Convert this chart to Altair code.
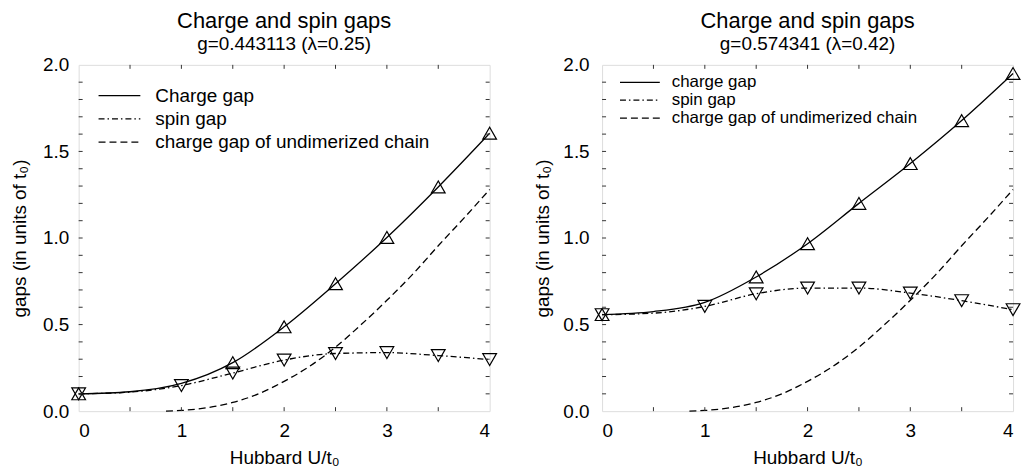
import altair as alt
import pandas as pd

FONT = "Liberation Sans"

# ---- data ----
U_line = [0, 0.5, 1, 1.5, 2, 2.5, 3, 3.5, 4]

# left panel: g=0.443113 (lambda=0.25)
charge_A = [0.10, 0.112, 0.16, 0.28, 0.487, 0.736, 1.003, 1.295, 1.605]
spin_A = [0.10, 0.11, 0.148, 0.22, 0.295, 0.333, 0.338, 0.321, 0.298]

# right panel: g=0.574341 (lambda=0.42)
charge_B = [0.558, 0.575, 0.628, 0.775, 0.967, 1.20, 1.43, 1.678, 1.95]
spin_B = [0.557, 0.566, 0.605, 0.678, 0.711, 0.711, 0.682, 0.638, 0.586]

# which U values carry a marker
U_charge_markers = [0, 1.5, 2, 2.5, 3, 3.5, 4]
U_spin_markers = [0, 1, 1.5, 2, 2.5, 3, 3.5, 4]

# charge gap of the undimerized chain (same in both panels)
U_undim = [0.85, 1.0, 1.25, 1.5, 1.75, 2.0, 2.25, 2.5, 2.75, 3.0, 3.25, 3.5, 3.75, 4.0]
undim = [0.0, 0.004, 0.02, 0.05, 0.10, 0.172, 0.26, 0.37, 0.50, 0.64, 0.79, 0.955, 1.115, 1.28]

x_ticks = [0, 1, 2, 3, 4]
x_minor = [0.5, 1, 1.5, 2, 2.5, 3, 3.5]
y_ticks = [0.0, 0.5, 1.0, 1.5, 2.0]
y_minor = [0.1, 0.2, 0.3, 0.4, 0.5, 0.6, 0.7, 0.8, 0.9, 1.0,
           1.1, 1.2, 1.3, 1.4, 1.5, 1.6, 1.7, 1.8, 1.9]

W, H = 413, 348
DASH_SOLID = [1, 0]
DASH_DOT = [6, 3, 1.5, 3]
DASH = [7, 4]


def panel(charge, spin, title, subtitle, labels, legend_font, leg_x0, leg_x1,
          leg_tx, leg_y0, leg_dy, ylab_pad, ytitle_pad):
    X = alt.X("U:Q", scale=alt.Scale(domain=[0, 4], nice=False, zero=False),
              axis=alt.Axis(values=x_ticks, format="d", title="Hubbard U/t\u2080",
                            ticks=False, domain=False, grid=False,
                            labelFontSize=19, titleFontSize=19, labelFont=FONT,
                            titleFont=FONT, labelColor="black", titleColor="black",
                            titleFontWeight="normal", labelPadding=10, titlePadding=9))
    Y = alt.Y("gap:Q", scale=alt.Scale(domain=[0, 2], nice=False),
              axis=alt.Axis(values=y_ticks, format=".1f",
                            title="gaps (in units of t\u2080)",
                            ticks=False, domain=False, grid=False,
                            labelFontSize=19, titleFontSize=19, labelFont=FONT,
                            titleFont=FONT, labelColor="black", titleColor="black",
                            titleFontWeight="normal", labelPadding=ylab_pad,
                            titlePadding=ytitle_pad))

    df_c = pd.DataFrame({"U": U_line, "gap": charge})
    df_s = pd.DataFrame({"U": U_line, "gap": spin})
    df_u = pd.DataFrame({"U": U_undim, "gap": undim})
    df_cm = df_c[df_c["U"].isin(U_charge_markers)]
    df_sm = df_s[df_s["U"].isin(U_spin_markers)]

    line_kw = dict(color="black", strokeWidth=1.3, interpolate="monotone")
    layers = [
        alt.Chart(df_u).mark_line(strokeDash=DASH, **line_kw).encode(x=X, y=Y),
        alt.Chart(df_s).mark_line(strokeDash=DASH_DOT, **line_kw).encode(x=X, y=Y),
        alt.Chart(df_c).mark_line(**line_kw).encode(x=X, y=Y),
        alt.Chart(df_cm).mark_point(shape="triangle-up", filled=False, size=190,
                                    color="black", strokeWidth=1.2, opacity=1).encode(x=X, y=Y),
        alt.Chart(df_sm).mark_point(shape="triangle-down", filled=False, size=190,
                                    color="black", strokeWidth=1.2, opacity=1).encode(x=X, y=Y),
    ]

    # inward ticks on all four sides
    df_xt = pd.DataFrame({"U": x_minor})
    df_yt = pd.DataFrame({"gap": y_minor})
    tick_kw = dict(color="#333333", strokeWidth=1)
    layers += [
        alt.Chart(df_xt).mark_rule(**tick_kw).encode(x=X, y=alt.value(H), y2=alt.value(H - 4)),
        alt.Chart(df_xt).mark_rule(**tick_kw).encode(x=X, y=alt.value(0), y2=alt.value(4)),
        alt.Chart(df_yt).mark_rule(**tick_kw).encode(y=Y, x=alt.value(0), x2=alt.value(4)),
        alt.Chart(df_yt).mark_rule(**tick_kw).encode(y=Y, x=alt.value(W - 4), x2=alt.value(W)),
    ]

    # legend inside the plot
    for i, (lab, dash) in enumerate(zip(labels, [DASH_SOLID, DASH_DOT, DASH])):
        yy = leg_y0 + i * leg_dy
        d = pd.DataFrame({"label": [lab]})
        layers.append(alt.Chart(d).mark_rule(color="black", strokeWidth=1.3, strokeDash=dash)
                      .encode(x=alt.value(leg_x0), x2=alt.value(leg_x1), y=alt.value(yy)))
        layers.append(alt.Chart(d).mark_text(align="left", baseline="middle", font=FONT,
                                             fontSize=legend_font, color="black")
                      .encode(text="label:N", x=alt.value(leg_tx), y=alt.value(yy)))

    return alt.layer(*layers).properties(
        width=W, height=H,
        title=alt.TitleParams(text=title, subtitle=subtitle, fontSize=22,
                              subtitleFontSize=19, font=FONT, subtitleFont=FONT,
                              fontWeight="normal", color="black", subtitleColor="black",
                              offset=1, subtitlePadding=2, anchor="middle"),
    )


left = panel(charge_A, spin_A, "Charge and spin gaps", "g=0.443113 (\u03bb=0.25)",
             ["Charge gap", "spin gap", "charge gap of undimerized chain"],
             19, 20, 62, 77, 31, 23.3, 10, 13)
right = panel(charge_B, spin_B, "Charge and spin gaps", "g=0.574341 (\u03bb=0.42)",
              ["charge gap", "spin gap", "charge gap of  undimerized chain"],
              17, 18, 58, 70, 17.5, 18, 13, 10)

chart = alt.hconcat(left, right, spacing=34).properties(
    padding={"left": 2, "top": 0, "right": 0, "bottom": 0}
).configure_view(stroke="#333333", strokeWidth=1.5).configure(background="white")

chart.save("out.html", embed_options={"renderer": "svg", "actions": False})
